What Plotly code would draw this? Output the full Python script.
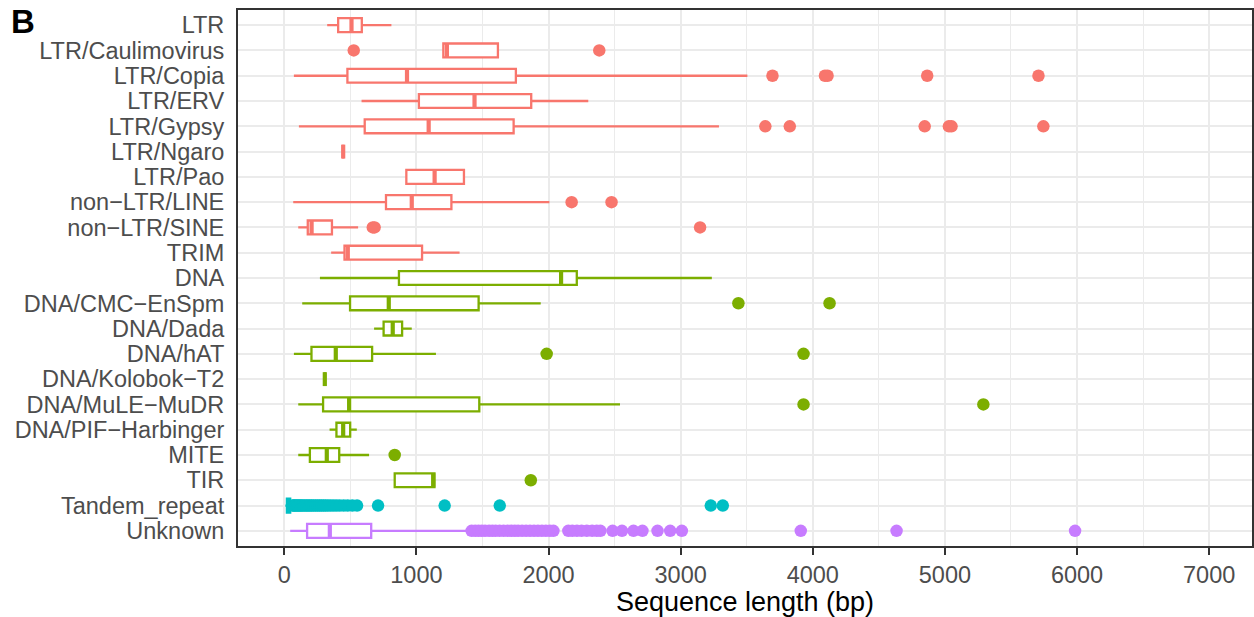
import plotly.graph_objects as go

# Repeat classes, listed top to bottom
classes = ["LTR", "LTR/Caulimovirus", "LTR/Copia", "LTR/ERV", "LTR/Gypsy", "LTR/Ngaro",
           "LTR/Pao", "non\u2212LTR/LINE", "non\u2212LTR/SINE", "TRIM", "DNA",
           "DNA/CMC\u2212EnSpm", "DNA/Dada", "DNA/hAT", "DNA/Kolobok\u2212T2",
           "DNA/MuLE\u2212MuDR", "DNA/PIF\u2212Harbinger", "MITE", "TIR",
           "Tandem_repeat", "Unknown"]
groups = ["LTR"] * 10 + ["DNA"] * 9 + ["Tandem"] + ["Unknown"]

# Box statistics (bp)
lower = [325, 1204, 73, 585, 111, 446, 924, 68, 106, 355, 270, 136, 680, 73, 307, 106, 343, 106, 836, 8, 45]
q1 = [408, 1204, 478, 1019, 609, 446, 924, 770, 178, 456, 868, 498, 752, 206, 307, 294, 395, 194, 836, 20, 173]
median = [509, 1231, 929, 1440, 1093, 446, 1138, 965, 207, 481, 2095, 791, 821, 390, 307, 491, 446, 322, 1127, 30, 345]
q3 = [587, 1617, 1753, 1869, 1736, 446, 1360, 1265, 361, 1043, 2214, 1471, 892, 665, 307, 1476, 499, 416, 1137, 45, 658]
upper = [811, 1617, 3505, 2301, 3290, 446, 1360, 2007, 559, 1327, 3236, 1941, 965, 1148, 307, 2541, 549, 642, 1137, 60, 1378]

# Outlying sequence lengths (bp)
outliers = {
    "LTR/Caulimovirus": [526, 2384],
    "LTR/Copia": [3695, 4092, 4112, 4866, 5708],
    "LTR/Gypsy": [3641, 3826, 4847, 5030, 5050, 5745],
    "non\u2212LTR/LINE": [2175, 2477],
    "non\u2212LTR/SINE": [670, 684, 3147],
    "DNA/CMC\u2212EnSpm": [3437, 4127],
    "DNA/hAT": [1986, 3930],
    "DNA/MuLE\u2212MuDR": [3930, 5291],
    "MITE": [836],
    "TIR": [1866],
    "Tandem_repeat": [64, 72, 80, 90, 100, 110, 120, 130, 142, 155, 168, 180, 193, 206, 220,
                      235, 250, 265, 280, 296, 312, 330, 350, 372, 395, 420, 450, 480, 515,
                      551, 710, 1214, 1631, 3228, 3319],
    "Unknown": [1418, 1445, 1470, 1495, 1520, 1550, 1575, 1600, 1630, 1660, 1690, 1720,
                1745, 1770, 1800, 1830, 1860, 1890, 1920, 1950, 1980, 2010, 2037,
                2150, 2180, 2215, 2250, 2290, 2330, 2365, 2393, 2485, 2556, 2643, 2711,
                2825, 2921, 3009, 3909, 4634, 5985],
}

palette = {"LTR": "#F8766D", "DNA": "#7CAE00", "Tandem": "#00BFC4", "Unknown": "#C77CFF"}
x_ticks = [0, 1000, 2000, 3000, 4000, 5000, 6000, 7000]

BOX_W = 0.55
fig = go.Figure()

for i, name in enumerate(classes):
    col = palette[groups[i]]
    fig.add_trace(go.Box(
        y=[i], q1=[q1[i]], median=[median[i]], q3=[q3[i]],
        lowerfence=[lower[i]], upperfence=[upper[i]],
        orientation="h", width=BOX_W, whiskerwidth=0,
        fillcolor="white", line=dict(color=col, width=2.3),
        boxpoints=False, hoverinfo="skip", showlegend=False,
    ))
    # thicker median bar
    fig.add_trace(go.Scatter(
        x=[median[i], median[i]], y=[i - BOX_W / 2, i + BOX_W / 2],
        mode="lines", line=dict(color=col, width=4.2),
        hoverinfo="skip", showlegend=False,
    ))
    pts = outliers.get(name, [])
    if pts:
        fig.add_trace(go.Scatter(
            x=pts, y=[i] * len(pts), mode="markers",
            marker=dict(color=col, size=12.5, line=dict(width=0)),
            hoverinfo="skip", showlegend=False,
        ))

fig.update_layout(
    width=1254, height=617,
    margin=dict(l=238, r=0, t=10, b=71),
    paper_bgcolor="white", plot_bgcolor="white",
    boxmode="overlay",
    font=dict(family="Liberation Sans, Arial, sans-serif", color="#4D4D4D"),
    xaxis=dict(
        range=[-350, 7324], tickvals=x_ticks, ticktext=[str(v) for v in x_ticks],
        showgrid=True, gridcolor="#EBEBEB", gridwidth=2,
        minor=dict(dtick=500, tick0=0, showgrid=True, gridcolor="#EBEBEB", gridwidth=1),
        ticks="outside", ticklen=7, tickwidth=2, tickcolor="#333333",
        tickfont=dict(size=23.5, color="#4D4D4D"),
        showline=True, linecolor="#333333", linewidth=2, mirror=True,
        zeroline=False,
        title=dict(text="Sequence length (bp)", font=dict(size=27, color="black"), standoff=9),
    ),
    yaxis=dict(
        range=[len(classes) - 0.4, -0.6],
        tickvals=list(range(len(classes))), ticktext=classes,
        showgrid=True, gridcolor="#EBEBEB", gridwidth=2,
        ticks="outside", ticklen=7, tickcolor="rgba(0,0,0,0)",
        tickfont=dict(size=23.5, color="#4D4D4D"),
        showline=True, linecolor="#333333", linewidth=2, mirror=True,
        zeroline=False,
    ),
    annotations=[dict(
        text="<b>B</b>", xref="paper", yref="paper", x=-0.2254, y=1.017,
        xanchor="left", yanchor="top", showarrow=False,
        font=dict(size=33, color="black"),
    )],
)

fig.write_html("out.html")
